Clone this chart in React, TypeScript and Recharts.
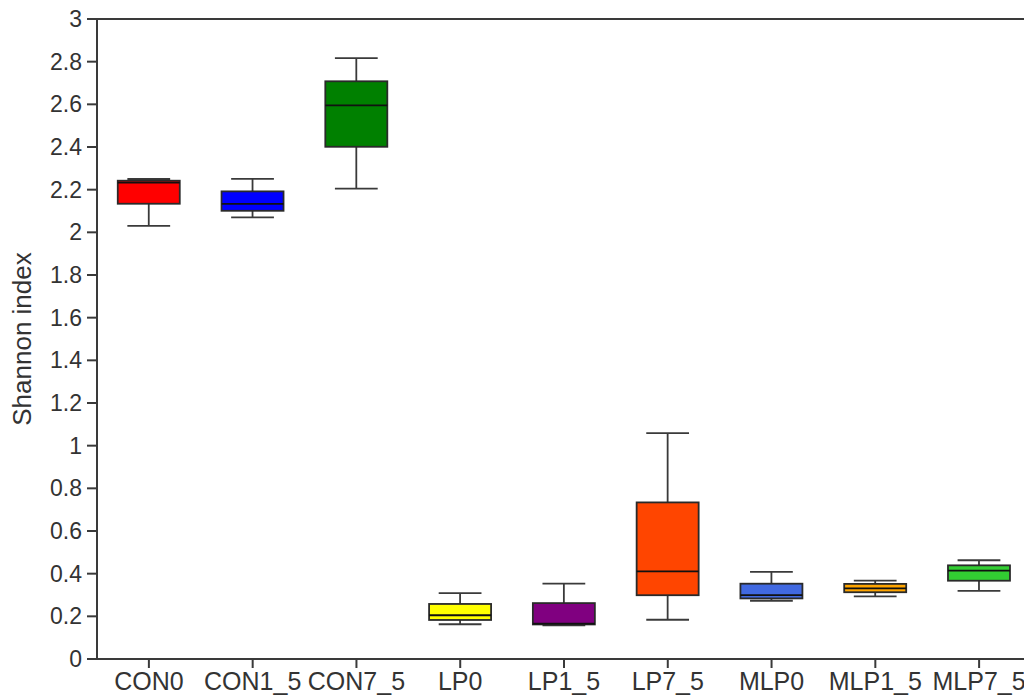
import { ComposedChart, Bar, XAxis, YAxis, ReferenceLine } from "recharts";

// Shannon index per group (box plot summary)
const categories = ["CON0", "CON1_5", "CON7_5", "LP0", "LP1_5", "LP7_5", "MLP0", "MLP1_5", "MLP7_5"];
const minVals = [2.03, 2.07, 2.205, 0.163, 0.158, 0.184, 0.273, 0.294, 0.319];
const q1Vals = [2.134, 2.101, 2.401, 0.183, 0.162, 0.299, 0.284, 0.313, 0.367];
const medianVals = [2.233, 2.133, 2.595, 0.205, 0.166, 0.411, 0.299, 0.331, 0.414];
const q3Vals = [2.242, 2.192, 2.708, 0.258, 0.262, 0.734, 0.353, 0.352, 0.439];
const maxVals = [2.25, 2.251, 2.817, 0.309, 0.353, 1.059, 0.408, 0.367, 0.463];
const boxColors = ["#ff0000", "#0000ff", "#008000", "#ffff00", "#800080", "#ff4500", "#4169e1", "#ffa500", "#32cd32"];
const yTicks = [0, 0.2, 0.4, 0.6, 0.8, 1, 1.2, 1.4, 1.6, 1.8, 2, 2.2, 2.4, 2.6, 2.8, 3];

const data = categories.map((name, i) => ({
  name,
  min: minVals[i],
  q1: q1Vals[i],
  median: medianVals[i],
  q3: q3Vals[i],
  max: maxVals[i],
  color: boxColors[i],
}));

const INK = "#3a3a3a";
const FONT = "'Liberation Sans', Arial, sans-serif";

function BoxShape(props: any) {
  const { x, y, width, height, payload } = props;
  const h = Math.abs(height);
  const top = height < 0 ? y + height : y;
  const k = h / (payload.max - payload.min);
  const py = (v: number) => top + (payload.max - v) * k;
  const cx = x + width / 2;
  const cap = width * 0.69;
  const yMax = py(payload.max), yQ3 = py(payload.q3), yMed = py(payload.median), yQ1 = py(payload.q1), yMin = py(payload.min);
  return (
    <g>
      <line x1={cx} x2={cx} y1={yMax} y2={yQ3} stroke={INK} strokeWidth={1.8} />
      <line x1={cx} x2={cx} y1={yQ1} y2={yMin} stroke={INK} strokeWidth={1.8} />
      <line x1={cx - cap / 2} x2={cx + cap / 2} y1={yMax} y2={yMax} stroke={INK} strokeWidth={1.8} />
      <line x1={cx - cap / 2} x2={cx + cap / 2} y1={yMin} y2={yMin} stroke={INK} strokeWidth={1.8} />
      <rect x={x} y={yQ3} width={width} height={Math.max(yQ1 - yQ3, 1)} fill={payload.color} stroke="#2a2a2a" strokeWidth={1.8} />
      <line x1={x} x2={x + width} y1={yMed} y2={yMed} stroke="#111" strokeWidth={1.8} />
    </g>
  );
}

export default function App() {
  return (
    <div style={{ position: "absolute", left: 0, top: 0, width: 1024, height: 695, overflow: "hidden", background: "#fff" }}>
      <ComposedChart width={1040} height={695} data={data} barCategoryGap="20%"
        margin={{ top: 19, right: 9, bottom: 0, left: 0 }}>
        <XAxis dataKey="name" height={36} tickSize={9} tickMargin={4}
          axisLine={{ stroke: INK, strokeWidth: 2 }} tickLine={{ stroke: INK, strokeWidth: 2 }}
          tick={{ fill: "#333", fontSize: 25, fontFamily: FONT }} interval={0} />
        <YAxis width={97} domain={[0, 3]} ticks={yTicks} tickSize={10} tickMargin={5}
          axisLine={{ stroke: INK, strokeWidth: 2 }} tickLine={{ stroke: INK, strokeWidth: 2 }}
          tick={{ fill: "#333", fontSize: 23, fontFamily: FONT }}
          tickFormatter={(v) => String(v)}
          label={{ value: "Shannon index", angle: -90, position: "insideLeft", offset: 22,
            style: { fill: "#333", fontSize: 26, fontFamily: FONT, textAnchor: "middle" } }} />
        <ReferenceLine y={3} stroke={INK} strokeWidth={2} />
        <Bar dataKey={(d: any) => [d.min, d.max]} shape={BoxShape} isAnimationActive={false} />
      </ComposedChart>
    </div>
  );
}
